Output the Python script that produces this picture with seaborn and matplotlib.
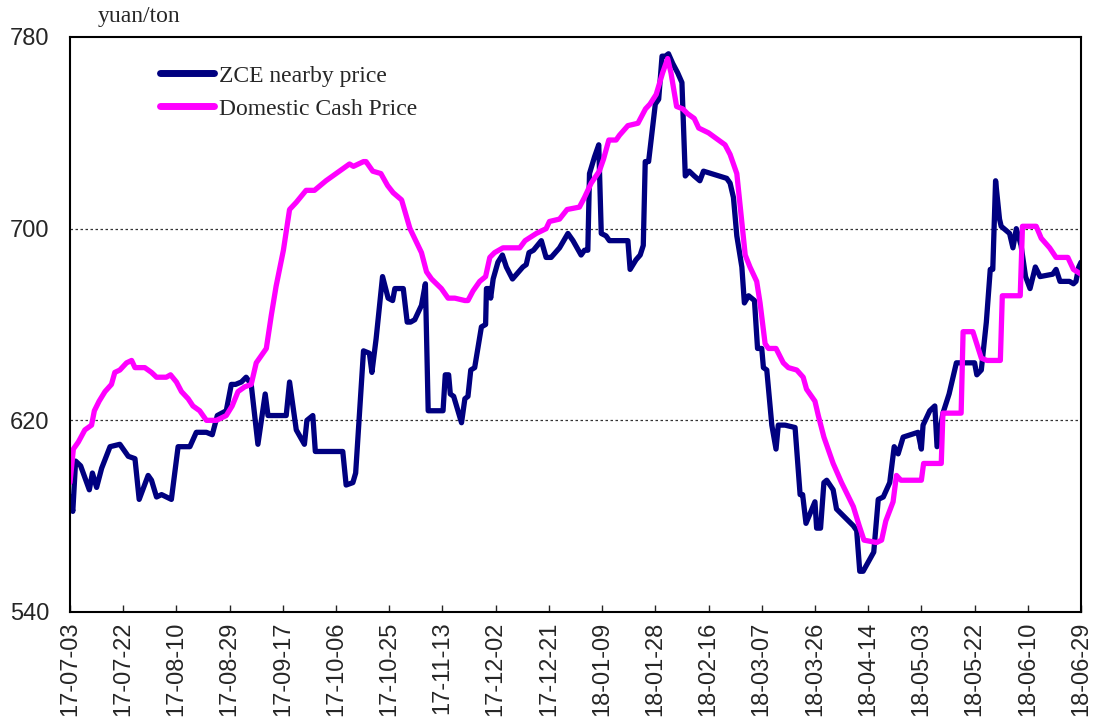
import matplotlib
matplotlib.use("Agg")
import matplotlib.pyplot as plt
import matplotlib.dates as mdates
import numpy as np
import pandas as pd
import seaborn as sns

start_date = "2017-07-03"

# days after 17-07-03
zce_days = [0, 1, 2, 3.8, 6.9, 8, 9.5, 11.3, 14.3, 17.8, 20.8, 23.2, 24.7, 27.9, 29.1, 30.9, 32.7, 36.2,
            38.6, 42.8, 45.1, 48.7, 50.8, 52.6, 55.8, 57.6, 59.1, 61.2, 62.9, 64.7, 67.1, 69.7, 70.7, 77.2,
            78.4, 80.8, 83.7, 84.6, 86.7, 87.6, 97.4, 98.6, 101, 102, 104.8, 106.9, 107.8, 109.3, 111.6,
            113.6, 115.2, 116, 119, 120.4, 121.6, 123.1, 125.5, 126.9, 127.9, 133.2, 134, 135.2, 135.8, 137,
            139.8, 141, 142.1, 143.1, 144.5, 146.9, 148.4, 148.7, 149.9, 150.2, 151.1, 152.8, 154.4, 155.8,
            158, 161.7, 162.9, 163.9, 165.5, 168.3, 170, 171.8, 174.8, 177.8, 179.6, 182.5, 183.7, 184.9,
            185.5, 187.3, 188.8, 189.7, 191.4, 192.6, 199.2, 200, 202.1, 203.6, 204.7, 205.4, 206.6, 209,
            210.2, 211.4, 212.6, 213.7, 215.2, 217, 218.5, 219.7, 221.1, 222.9, 224.9, 226.2, 234.5, 235.7,
            236.9, 238.1, 239.9, 240.8, 242.3, 244.4, 245.5, 247, 247.6, 248.8, 250.6, 252.1, 252.9, 255.3,
            258.9, 260.7, 261.6, 262.8, 266, 266.6, 268, 269.2, 270.2, 272.5, 273.7, 279.7, 280.9, 282,
            283.2, 287, 288.6, 290.4, 292.7, 294.3, 295.7, 297.5, 302.8, 304, 304.6, 307, 308.8, 309.6,
            311.7, 313.9, 316.5, 323, 323.8, 325.4, 327.2, 328.6, 329.5, 330.5, 331.9, 332.5, 335.5, 336.7,
            337.9, 339.6, 341.2, 342.8, 344.7, 346.4, 350.9, 352.1, 353.5, 356.9, 358.3, 359.2, 360.2, 361]
zce_price = [588, 582, 603, 601, 591, 598, 592, 600, 609, 610, 605, 604, 587, 597, 595, 588, 589, 587,
             609, 609, 615, 615, 614, 622, 624, 635, 635, 636, 638, 635, 610, 631, 622, 622,
             636, 616, 610, 620, 622, 607, 607, 593, 594, 598, 649, 648, 640, 654, 680,
             671, 670, 675, 675, 661, 661, 662, 668, 677, 624, 624, 639, 639, 631, 630,
             619, 629, 630, 641, 642, 659, 660, 675, 675, 671, 679, 686, 689, 684,
             679, 684, 685, 690, 691, 695, 688, 688, 692, 698, 695, 689, 691, 691,
             723, 730, 735, 698, 697, 695, 695, 683, 687, 689, 693, 728, 728, 752,
             754, 772, 772, 773, 769, 765, 761, 722, 724, 722, 720, 724, 721, 719,
             713, 697, 684, 669, 672, 670, 650, 650, 642, 641, 618, 608, 618, 618,
             617, 589, 589, 577, 586, 575, 575, 594, 595, 591, 583, 576, 574, 557,
             557, 565, 587, 588, 594, 609, 606, 613, 615, 608, 618, 624, 626, 609,
             623, 631, 644, 644, 639, 641, 661, 683, 683, 720, 704, 701, 698, 692,
             700, 693, 680, 675, 684, 680, 681, 683, 678, 678, 677, 678, 684, 686]

cash_days = [0, 1.2, 3, 5.3, 7.7, 8.7, 10.4, 12.5, 14.8, 16, 17.8, 20.2, 22, 23.2, 26.7, 29.1, 30.9, 34.4,
             35.9, 38, 39.8, 42.2, 43.9, 46.3, 48.7, 52.3, 55.8, 57.9, 60, 62.4, 64.7, 66.5, 70.1, 71.9,
             73.6, 76.2, 78.4, 80.8, 84.3, 87.3, 91.4, 97.4, 99.8, 101.2, 104.8, 105.7, 108.1, 111, 113.4,
             115.4, 118.4, 121.4, 125.5, 127.3, 129.1, 132.6, 135, 137.4, 141, 142.1, 143.9, 146.3, 148.4,
             149.9, 151.6, 154.6, 157, 160.6, 162.5, 166.5, 170, 171.2, 174.8, 177.5, 181.9, 183.7, 186.1,
             189, 190.5, 192.4, 195, 196.2, 199.2, 202.8, 205.5, 207.1, 209.3, 211.6, 213.4, 214.6, 216.6,
             218.8, 220.5, 222.9, 224.5, 228, 233.9, 235.7, 238.1, 241.1, 242.8, 245.2, 246.4, 248.2, 249.4,
             252.1, 254.7, 256.5, 259.5, 261.8, 263, 266, 267.2, 269.2, 272.5, 275.5, 279.7, 281.8, 283.5,
             288, 289.8, 291.3, 293.9, 295.1, 296.7, 304, 304.8, 311.1, 311.7, 318.2, 318.9, 322.4, 325.4,
             327.4, 332.2, 332.9, 339.3, 340.1, 345, 346.8, 349.8, 352.1, 356.3, 358.3, 361]
cash_price = [594, 608, 611, 616, 618, 624, 628, 632, 635, 640, 641, 644, 645, 642, 642, 640, 638, 638,
              639, 636, 632, 629, 626, 624, 620, 620, 622, 626, 632, 634, 635, 644, 650, 664,
              676, 691, 708, 711, 716, 716, 720, 725, 727, 726, 728, 728, 724, 723, 718,
              715, 712, 700, 690, 682, 679, 675, 671, 671, 670, 670, 674, 678, 680,
              688, 690, 692, 692, 692, 695, 698, 700, 703, 704, 708, 709, 713, 719,
              724, 729, 737, 737, 739, 743, 744, 750, 752, 756, 765, 771, 765, 751,
              750, 748, 746, 742, 740, 735, 731, 723, 689, 684, 678, 669, 652, 650,
              650, 644, 642, 641, 638, 633, 628, 622, 613, 602, 594, 584, 576, 570,
              569, 570, 578, 586, 597, 595, 595, 602, 602, 623, 623, 657, 657, 646,
              645, 645, 672, 672, 701, 701, 696, 692, 688, 688, 683, 681]

series_names = ["ZCE nearby price", "Domestic Cash Price"]
series_colors = ["#000080", "#FF00FF"]
y_ticks = [540, 620, 700, 780]
tick_step_days = 19
n_ticks = 20

t0 = pd.Timestamp(start_date)
df = pd.concat([
    pd.DataFrame({"date": t0 + pd.to_timedelta(zce_days, unit="D"), "price": zce_price, "series": series_names[0]}),
    pd.DataFrame({"date": t0 + pd.to_timedelta(cash_days, unit="D"), "price": cash_price, "series": series_names[1]}),
])

sns.set_style("white")
plt.rcParams["font.family"] = ["Liberation Sans", "DejaVu Sans"]

fig = plt.figure(figsize=(10.97, 7.27), dpi=100)
ax = fig.add_axes([70 / 1097, 1 - 612 / 727, 1011 / 1097, 575 / 727])

sns.lineplot(data=df, x="date", y="price", hue="series", hue_order=series_names,
             palette=series_colors, linewidth=3.8, estimator=None, sort=False, ax=ax)

tick_dates = [t0 + pd.Timedelta(days=tick_step_days * i) for i in range(n_ticks)]
ax.set_xticks(tick_dates)
ax.xaxis.set_major_formatter(mdates.DateFormatter("%y-%m-%d"))
ax.set_xlim(tick_dates[0], tick_dates[-1])
ax.set_ylim(540, 780)
ax.set_yticks(y_ticks)

for v in [620, 700]:
    ax.axhline(v, color="#333333", linestyle=(0, (2, 2)), linewidth=0.9, zorder=0)

ax.tick_params(axis="x", direction="in", length=5, width=1, bottom=True, labelsize=17,
               labelrotation=90, pad=7)
ax.tick_params(axis="y", length=0, labelsize=17, pad=15)
for s in ax.spines.values():
    s.set_color("black")
    s.set_linewidth(1.5)

ax.set_xlabel("")
ax.set_ylabel("")

leg = ax.legend(loc="upper left", bbox_to_anchor=(0.089, 0.951), frameon=False,
                prop={"family": "Liberation Serif", "size": 17}, handlelength=2.3,
                handletextpad=0.2, labelspacing=0.48, borderpad=0, borderaxespad=0)
for line in leg.get_lines():
    line.set_linewidth(5)

fig.text(98 / 1097, 1 - 22 / 727, "yuan/ton", family="Liberation Serif", fontsize=17, va="baseline")

fig.savefig("out.png", dpi=100)
